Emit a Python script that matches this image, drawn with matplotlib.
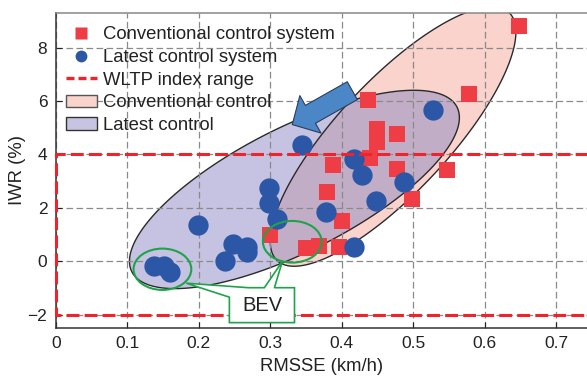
import numpy as np
import matplotlib
matplotlib.use("Agg")
import matplotlib.pyplot as plt
from matplotlib.lines import Line2D
from matplotlib.patches import Patch, Polygon, Ellipse

plt.rcParams['font.family'] = ['Liberation Sans', 'DejaVu Sans']

# ---------------- data ----------------
conv_x = [0.648, 0.578, 0.437, 0.449, 0.449, 0.478, 0.440, 0.388, 0.478, 0.548,
          0.379, 0.498, 0.400, 0.300, 0.350, 0.368, 0.396]
conv_y = [8.80, 6.25, 6.05, 4.95, 4.45, 4.75, 3.87, 3.60, 3.45, 3.40,
          2.60, 2.35, 1.50, 0.98, 0.50, 0.57, 0.53]

lat_x = [0.528, 0.344, 0.417, 0.428, 0.487, 0.448, 0.298, 0.298, 0.378, 0.310,
         0.199, 0.248, 0.268, 0.268, 0.237, 0.138, 0.151, 0.160, 0.418]
lat_y = [5.65, 4.35, 3.84, 3.23, 2.98, 2.25, 2.75, 2.19, 1.85, 1.60,
         1.37, 0.64, 0.55, 0.35, 0.02, -0.17, -0.17, -0.42, 0.55]

wltp_low, wltp_high = -2, 4

x_ticks = [0, 0.1, 0.2, 0.3, 0.4, 0.5, 0.6, 0.7]
x_tick_labels = ['0', '0.1', '0.2', '0.3', '0.4', '0.5', '0.6', '0.7']
y_ticks = [-2, 0, 2, 4, 6, 8]
y_tick_labels = ['\u22122', '0', '2', '4', '6', '8']

# ellipse regions: centre and two conjugate semi-axis vectors (data units)
conv_region = dict(c=(0.472, 4.673), v1=(0.1019, 0.0), v2=(0.1384, 4.86))
lat_region = dict(c=(0.334, 2.69), v1=(0.2274, 3.088), v2=(0.0395, -2.065))

# ---------------- style ----------------
RED_SQ = '#ee3d44'
BLUE = '#2c56a6'
RED_DASH = '#f0232b'
PINK = '#f9d3cc'
LAV = '#8d89c4'
XMAX = 0.745

fig = plt.figure(figsize=(5.87, 3.79), dpi=100)
ax = fig.add_axes([0.0949, 0.1346, 0.9051 + 0.002, 0.8311])
ax.set_xlim(0, XMAX)
ax.set_ylim(-2.5, 9.3)


def ell_pts(reg, n=400):
    t = np.linspace(0, 2 * np.pi, n)
    cx, cy = reg['c']
    x = cx + reg['v1'][0] * np.cos(t) + reg['v2'][0] * np.sin(t)
    y = cy + reg['v1'][1] * np.cos(t) + reg['v2'][1] * np.sin(t)
    return np.column_stack([x, y])


pc = ell_pts(conv_region)
pl = ell_pts(lat_region)
ax.add_patch(Polygon(pc, closed=True, fc=PINK, ec='none', zorder=1))
ax.add_patch(Polygon(pl, closed=True, fc=LAV, alpha=0.5, ec='none', zorder=1.1))
ax.add_patch(Polygon(pc, closed=True, fill=False, ec='#2a2a2a', lw=1.0, zorder=1.2))
ax.add_patch(Polygon(pl, closed=True, fill=False, ec='#2a2a2a', lw=1.0, zorder=1.2))

ax.set_axisbelow('line')
ax.grid(True, color='#8a8a8a', lw=0.9, linestyle=(0, (5.3, 2.7)))

# markers
ax.scatter(conv_x, conv_y, marker='s', s=11.5 ** 2, c=RED_SQ, lw=0, zorder=3)
ax.scatter(lat_x, lat_y, marker='o', s=14.6 ** 2, c=BLUE, lw=0, zorder=3.1)

# WLTP range
ax.plot([XMAX, 0, 0, XMAX], [wltp_high, wltp_high, wltp_low, wltp_low],
        color=RED_DASH, lw=2.2, dashes=(4.2, 1.7), clip_on=False, zorder=4)

# arrow
ax.annotate('', xy=(0.331, 5.12), xytext=(0.415, 6.39),
            arrowprops=dict(arrowstyle='simple,head_length=15,head_width=31,tail_width=14.8',
                            mutation_scale=1, fc='#4b87c6', ec='#2b3d5c', lw=0.8,
                            shrinkA=0, shrinkB=0),
            zorder=3.5)

# BEV callout
GREEN = '#1fa34a'
ax.add_patch(Ellipse((0.1493, -0.30), 2 * 0.0404, 2 * 0.774, fill=False,
                     ec=GREEN, lw=1.5, zorder=5))
ax.add_patch(Ellipse((0.331, 0.73), 2 * 0.0411, 2 * 0.78, fill=False,
                     ec=GREEN, lw=1.5, zorder=5))
callout = [(0.2430, -2.299), (0.2430, -1.346), (0.1827, -0.822), (0.2696, -0.991),
           (0.2920, -0.991), (0.3172, 0.0), (0.3060, -0.991), (0.3341, -0.991),
           (0.3341, -2.299)]
ax.add_patch(Polygon(callout, closed=True, fc='white', ec=GREEN, lw=1.2, zorder=5))
ax.text(0.2886, -1.64, 'BEV', ha='center', va='center', fontsize=14.5,
        color='#222222', zorder=6)

# axes formatting
ax.set_xticks(x_ticks)
ax.set_xticklabels(x_tick_labels)
ax.set_yticks(y_ticks)
ax.set_yticklabels(y_tick_labels)
ax.tick_params(direction='in', length=4, labelsize=12.5, colors='#222222',
               pad=6, top=False, right=False)
for s in ['left', 'bottom']:
    ax.spines[s].set_color('#333333')
    ax.spines[s].set_linewidth(1.1)
ax.spines['top'].set_color('#888888')
ax.spines['top'].set_linewidth(1.1)
ax.spines['right'].set_visible(False)

ax.set_xlabel('RMSSE (km/h)', fontsize=13.3, color='#222222', labelpad=5)
ax.set_ylabel('IWR (%)', fontsize=13.3, color='#222222', labelpad=1)

handles = [
    Line2D([], [], marker='s', ls='none', ms=8, mfc=RED_SQ, mec='none'),
    Line2D([], [], marker='o', ls='none', ms=8.5, mfc=BLUE, mec='none'),
    Line2D([], [], color=RED_DASH, lw=2.4, dashes=(2.4, 1.2)),
    Patch(fc=PINK, ec='#555555', lw=1.0),
    Patch(fc='#c6c4e1', ec='#333333', lw=1.0),
]
labels = ['Conventional control system', 'Latest control system', 'WLTP index range',
          'Conventional control', 'Latest control']
leg = ax.legend(handles, labels, loc='upper left', bbox_to_anchor=(0.019, 0.958),
                frameon=False, fontsize=13.3, borderpad=0, borderaxespad=0,
                handlelength=1.67, handletextpad=0.33, labelspacing=0.31,
                handleheight=0.65)
leg.set_zorder(7)
for t in leg.get_texts():
    t.set_color('#222222')

fig.savefig('out.png', dpi=100)
